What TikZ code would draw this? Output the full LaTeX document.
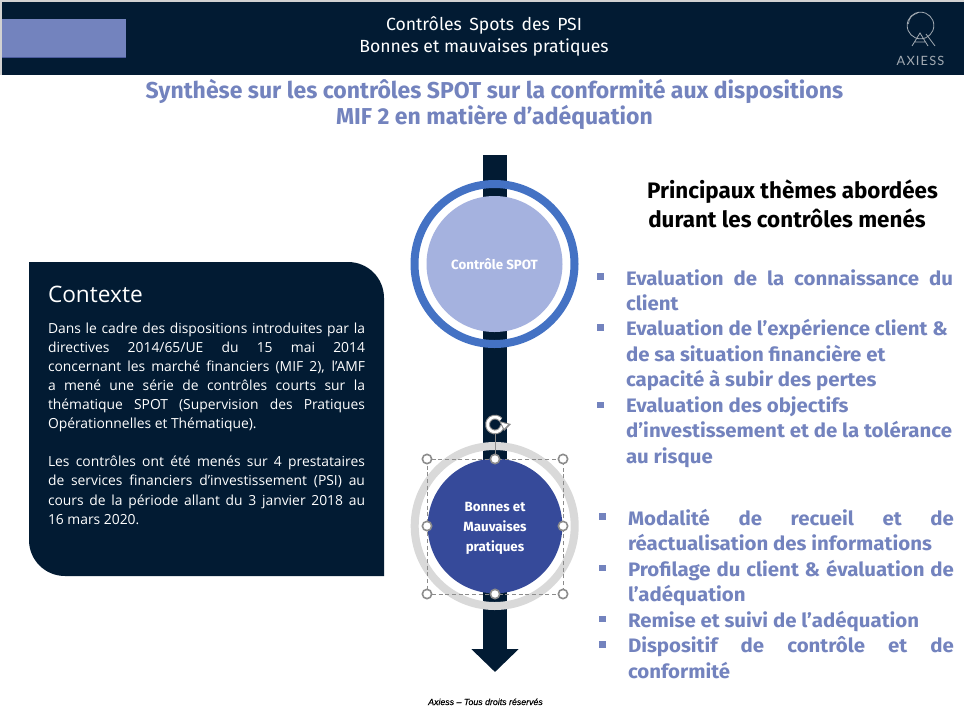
\documentclass[tikz,border=0pt]{standalone}
\usepackage{fontspec}
\usetikzlibrary{arrows.meta}
\setmainfont{Open Sans}
\newfontfamily\headf{Fira Sans}
\newfontfamily\itemf[FakeStretch=1.05]{Fira Sans}
\newfontfamily\footf[FakeBold=0.35]{Liberation Sans}
\newfontfamily\logof[LetterSpace=9]{Lato}
\definecolor{navy}{HTML}{021B33}
\definecolor{lav}{HTML}{7383BE}
\definecolor{lavedge}{HTML}{4A5A9C}
\definecolor{paleblue}{HTML}{A5B2DF}
\definecolor{ringblue}{HTML}{4472C4}
\definecolor{ringgrey}{HTML}{D9D9D9}
\definecolor{deepblue}{HTML}{364A9A}
\definecolor{handle}{HTML}{8C8C8C}
\definecolor{logogrey}{HTML}{A3ABB3}
\newcommand{\fs}[1]{\fontsize{#1}{#1}\selectfont}
\newcommand{\jc}[1]{\makebox[237.75pt][s]{#1}}
\newcommand{\jr}[1]{\makebox[245.25pt][s]{#1}}
\newcommand{\js}[1]{\makebox[244.5pt][s]{#1}}
\tikzset{
  every node/.style={inner sep=0pt,outer sep=0pt},
  ctx/.style={anchor=base west,text=white,font=\fs{10.4}},
  item/.style={anchor=base west,text=lav,font=\itemf\bfseries\fs{14.6}},
  headw/.style={anchor=base,text=white,font=\headf\fs{13.2}},
  ttl/.style={anchor=base,text=lav,font=\headf\bfseries\fs{17.25}},
  blk/.style={anchor=base,text=black,font=\headf\bfseries\fs{16.8}},
  sq/.style={fill=lav,minimum width=5pt,minimum height=5pt,rectangle},
  ringa/.style={circle,draw=ringblue,line width=6pt,minimum size=120pt},
  ringb/.style={circle,draw=ringgrey,line width=6pt,minimum size=120pt},
  hnd/.style={circle,draw=handle,fill=white,line width=1.2pt,minimum size=7pt},
  clab/.style={anchor=base,text=white,font=\headf\bfseries\fs{10}},
}
\begin{document}
\begin{tikzpicture}[x=.75pt,y=-.75pt]
\useasboundingbox (0,0) rectangle (964,722);
\fill[white] (0,0) rectangle (964,722);
\fill[gray!35] (0,0) rectangle (964,2);
\fill[gray!35] (0,0) rectangle (2,75);
\fill[navy] (2,2) rectangle (964,75);
\fill[lav] (2,18.5) rectangle (126,57);
\draw[lavedge,line width=.6pt] (2,57) -- (126,57);
\node[headw] (h1) at (484,30.7) {\makebox[147pt][s]{Contrôles Spots des PSI}};
\node[headw] (h2) at (484,52.7) {Bonnes et mauvaises pratiques};
% logo
\node[circle,draw=logogrey,line width=.6pt,minimum size=20pt] (logoc) at (920.5,25.5) {};
\draw[logogrey,line width=.5pt] (908.5,24) arc[start angle=180,end angle=100,radius=8.25pt];
\coordinate (la) at (920,33);
\coordinate (lb) at (912,46);
\coordinate (lc) at (928,46);
\coordinate (ld) at (914.5,42);
\coordinate (le) at (925.5,42);
\coordinate (lf) at (926,34);
\coordinate (lg) at (935,46);
\draw[logogrey,line width=.6pt] (lb) -- (la) -- (lc) (ld) -- (le) (lf) -- (lg);
\node[anchor=base,text=logogrey,font=\logof\fs{9.6}] (logot) at (920.5,65) {AXIESS};
% titles
\node[ttl] (t1) at (494.5,98) {Synthèse sur les contrôles SPOT sur la conformité aux dispositions};
\node[ttl] (t2) at (494.5,124) {MIF 2 en matière d’adéquation};
% arrow
\coordinate (atop) at (495,155);
\coordinate (atip) at (495,672);
\draw[navy,line width=18pt,-{Triangle[width=34.5pt,length=17.25pt,sep=0pt]}] (atop) -- (atip);
% circles
\node[ringa] (r1) at (494.5,264) {};
\node[circle,fill=paleblue,minimum size=102pt] (c1) at (494.5,264) {};
\node[clab] (c1t) at (494.5,269) {Contrôle SPOT};
\node[ringb] (r2) at (494.7,526) {};
\node[circle,fill=deepblue,minimum size=101pt] (c2) at (495,526) {};
\node[clab] (c2a) at (495,511.7) {Bonnes et};
\node[clab] (c2b) at (495,531.7) {Mauvaises};
\node[clab] (c2c) at (495,551) {pratiques};
% selection
\coordinate (s1) at (427,459);
\coordinate (s2) at (563,594);
\draw[handle,densely dashed,line width=.5pt] (s1) rectangle (s2);
\node[hnd] (hnw) at (427,459) {};
\node[hnd] (hn) at (495,459) {};
\node[hnd] (hne) at (563,459) {};
\node[hnd] (hw) at (427,526) {};
\node[hnd] (he) at (563,526) {};
\node[hnd] (hsw) at (427,594) {};
\node[hnd] (hs) at (495,594) {};
\node[hnd] (hse) at (563,594) {};
\node[circle,minimum size=13pt] (rot) at (495,424.5) {};
\draw[handle,line width=.7pt] (rot.south) -- (hn);
\draw[handle,line width=3.6pt] (rot.center) ++(-10:5.6pt) arc[start angle=-10,end angle=-320,radius=5.6pt];
\draw[white,line width=2pt] (rot.center) ++(-10:5.6pt) arc[start angle=-10,end angle=-320,radius=5.6pt];
\fill[handle] (499,421) -- (511,424) -- (504,431) -- cycle;
\fill[white] (501,422.5) -- (508,424.5) -- (504,428.5) -- cycle;
% left box
\fill[navy] (29,262) -- (348,262) .. controls (368,262) and (384,278) .. (384,298) -- (384,576) -- (65,576) .. controls (45,576) and (29,560) .. (29,540) -- cycle;
\node[anchor=base west,text=white,font=\fs{17}] (ct) at (48,302.7) {Contexte};
\node[ctx] (l1) at (48,333) {\jc{Dans le cadre des dispositions introduites par la}};
\node[ctx] (l2) at (48,352) {\jc{directives 2014/65/UE du 15 mai 2014}};
\node[ctx] (l3) at (48,371) {\jc{concernant les marché financiers (MIF 2), l’AMF}};
\node[ctx] (l4) at (48,390) {\jc{a mené une série de contrôles courts sur la}};
\node[ctx] (l5) at (48,409.5) {\jc{thématique SPOT (Supervision des Pratiques}};
\node[ctx] (l6) at (48,428.5) {Opérationnelles et Thématique).};
\node[ctx] (l7) at (48,466.5) {\jc{Les contrôles ont été menés sur 4 prestataires}};
\node[ctx] (l8) at (48,485.7) {\jc{de services financiers d’investissement (PSI) au}};
\node[ctx] (l9) at (48,505) {\jc{cours de la période allant du 3 janvier 2018 au}};
\node[ctx] (l10) at (48,524) {16 mars 2020.};
% right heading
\node[blk] (p1) at (792.5,198) {Principaux thèmes abordées};
\node[blk] (p2) at (787,227) {durant les contrôles menés};
% items
\node[sq] (b1) at (600.5,276.7) {};
\node[sq] (b2) at (600.5,327.7) {};
\node[sq] (b3) at (600.5,405) {};
\node[item] (i1) at (626,285) {\jr{Evaluation de la connaissance du}};
\node[item] (i2) at (626,310) {client};
\node[item] (i3) at (626,335.7) {Evaluation de l’expérience client \&};
\node[item] (i4) at (626,361) {de sa situation financière et};
\node[item] (i5) at (626,386.7) {capacité à subir des pertes};
\node[item] (i6) at (626,412) {Evaluation des objectifs};
\node[item] (i7) at (626,437.7) {d’investissement et de la tolérance};
\node[item] (i8) at (626,463) {au risque};
\node[sq] (b4) at (602.5,516.7) {};
\node[sq] (b5) at (602.5,568) {};
\node[sq] (b6) at (602.5,619) {};
\node[sq] (b7) at (602.5,644.5) {};
\node[item] (j1) at (628,525) {\js{Modalité de recueil et de}};
\node[item] (j2) at (628,550) {réactualisation des informations};
\node[item] (j3) at (628,576) {\js{Profilage du client \& évaluation de}};
\node[item] (j4) at (628,601.7) {l’adéquation};
\node[item] (j5) at (628,627) {Remise et suivi de l’adéquation};
\node[item] (j6) at (628,652.7) {\js{Dispositif de contrôle et de}};
\node[item] (j7) at (628,678) {conformité};
% footer
\node[anchor=base,text=black,font=\footf\itshape\fs{6.6}] (foot) at (485.5,705) {Axiess – Tous droits réservés};
\end{tikzpicture}
\end{document}
